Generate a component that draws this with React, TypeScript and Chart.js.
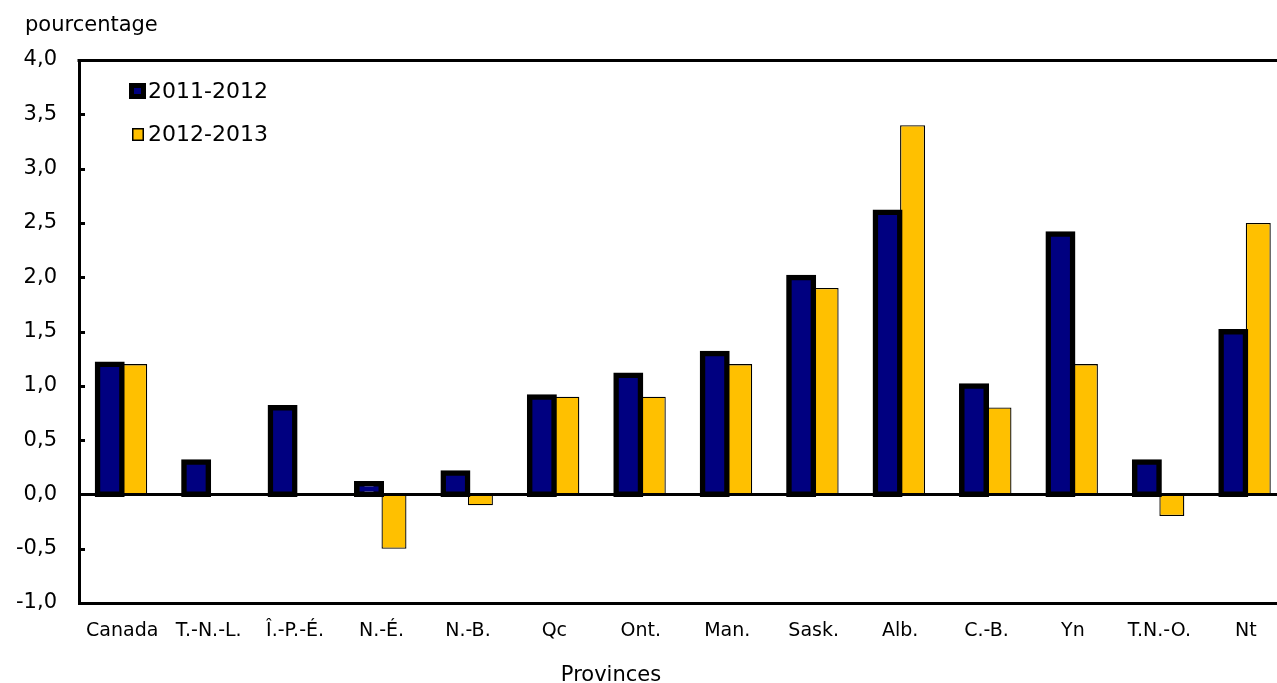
import React, { useEffect, useRef } from "react";
import { Chart, registerables } from "chart.js";

Chart.register(...registerables);

const categories = ["Canada", "T.-N.-L.", "Î.-P.-É.", "N.-É.", "N.-B.", "Qc", "Ont.", "Man.", "Sask.", "Alb.", "C.-B.", "Yn", "T.N.-O.", "Nt"];
const series2011 = [1.2, 0.3, 0.8, 0.1, 0.2, 0.9, 1.1, 1.3, 2.0, 2.6, 1.0, 2.4, 0.3, 1.5];
const series2012 = [1.2, null, null, -0.5, -0.1, 0.9, 0.9, 1.2, 1.9, 3.4, 0.8, 1.2, -0.2, 2.5];
const seriesLabels = ["2011-2012", "2012-2013"];
const yMin = -1;
const yMax = 4;
const yStep = 0.5;
const yTitle = "pourcentage";
const xTitle = "Provinces";

const FONT = "DejaVu Sans, Verdana, sans-serif";

const decorPlugin = {
  id: "decor",
  afterDatasetsDraw(chart: any) {
    const { ctx, chartArea, scales } = chart;
    const y = scales.y;
    ctx.save();
    ctx.strokeStyle = "#000";
    ctx.lineWidth = 3;
    // zero line
    const y0 = Math.round(y.getPixelForValue(0)) + 0.5;
    ctx.beginPath();
    ctx.moveTo(chartArea.left, y0);
    ctx.lineTo(chartArea.right, y0);
    ctx.stroke();
    // top border
    ctx.beginPath();
    ctx.moveTo(chartArea.left - 1.5, chartArea.top + 0.5);
    ctx.lineTo(chartArea.right, chartArea.top + 0.5);
    ctx.stroke();
    // inward ticks
    y.ticks.forEach((t: any) => {
      const py = Math.round(y.getPixelForValue(t.value)) + 0.5;
      ctx.beginPath();
      ctx.moveTo(chartArea.left, py);
      ctx.lineTo(chartArea.left + 6, py);
      ctx.stroke();
    });
    // titles
    ctx.fillStyle = "#000";
    ctx.font = `21px ${FONT}`;
    ctx.textAlign = "left";
    ctx.textBaseline = "alphabetic";
    ctx.fillText(yTitle, 25, 31);
    ctx.textAlign = "center";
    ctx.fillText(xTitle, 611, 681);
    // legend
    ctx.textAlign = "left";
    ctx.font = `22px ${FONT}`;
    const ds = chart.data.datasets;
    const items = [
      { x: 129, y: 83, w: 17, h: 16, bw: 5, base: 98 },
      { x: 132, y: 128, w: 12, h: 13, bw: 1.5, base: 141 },
    ];
    ds.forEach((d: any, i: number) => {
      const it = items[i];
      ctx.fillStyle = d.borderColor;
      ctx.fillRect(it.x, it.y, it.w, it.h);
      ctx.fillStyle = d.backgroundColor;
      ctx.fillRect(it.x + it.bw, it.y + it.bw, it.w - 2 * it.bw, it.h - 2 * it.bw);
      ctx.fillStyle = "#000";
      ctx.fillText(d.label, 148, it.base);
    });
    ctx.restore();
  },
};

export default function App() {
  const ref = useRef<HTMLCanvasElement | null>(null);
  useEffect(() => {
    if (!ref.current) return;
    const chart = new Chart(ref.current, {
      type: "bar",
      data: {
        labels: categories,
        datasets: [
          {
            label: seriesLabels[0],
            data: series2011,
            backgroundColor: "#000080",
            borderColor: "#000000",
            borderWidth: 5.5,
            borderSkipped: false,
            inflateAmount: 2.5,
            barPercentage: 1,
            categoryPercentage: 0.578,
          },
          {
            label: seriesLabels[1],
            data: series2012 as any,
            backgroundColor: "#FFC000",
            borderColor: "#000000",
            borderWidth: 1.3,
            borderSkipped: false,
            inflateAmount: 0,
            barPercentage: 1,
            categoryPercentage: 0.578,
          },
        ],
      },
      options: {
        animation: false,
        responsive: false,
        devicePixelRatio: 1,
        layout: { padding: { top: 60, left: 0, right: 1, bottom: 0 } },
        plugins: {
          legend: { display: false },
          tooltip: { enabled: false },
        },
        scales: {
          x: {
            grid: { display: false, drawTicks: false },
            border: { display: true, color: "#000", width: 3 },
            ticks: { color: "#000", font: { family: FONT, size: 19 }, padding: 17, maxRotation: 0, autoSkip: false },
            afterFit: (s: any) => { s.height = 80; },
          },
          y: {
            min: yMin,
            max: yMax,
            grid: { display: false, drawTicks: false },
            border: { display: true, color: "#000", width: 3 },
            ticks: {
              stepSize: yStep,
              color: "#000",
              padding: 22,
              font: { family: FONT, size: 21 },
              callback: (v: any) => Number(v).toFixed(1).replace(".", ","),
            },
            afterFit: (s: any) => { s.width = 79; },
          },
        },
      } as any,
      plugins: [decorPlugin],
    });
    return () => chart.destroy();
  }, []);
  return (
    <div style={{ position: "absolute", left: 0, top: 0, width: 1277, height: 683, overflow: "hidden", background: "#fff" }}>
      <canvas ref={ref} width={1290} height={683} style={{ display: "block" }} />
    </div>
  );
}
